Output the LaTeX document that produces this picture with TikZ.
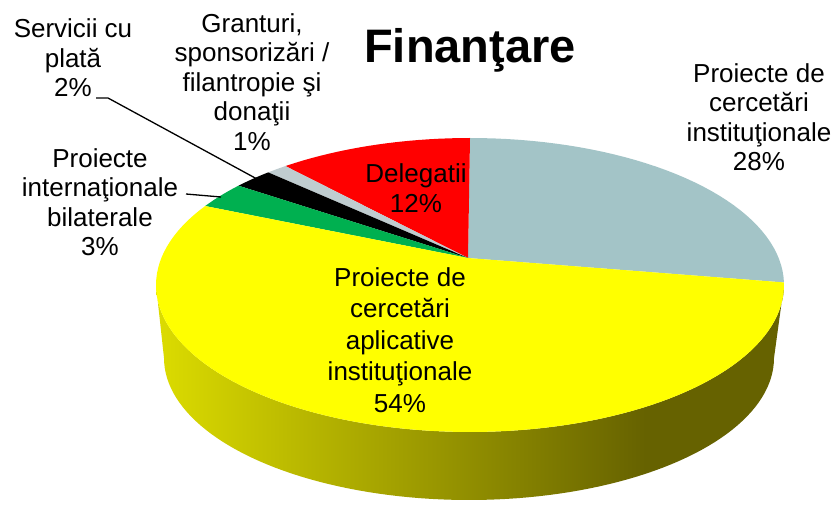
\documentclass[tikz,border=0pt]{standalone}
\usepackage{fontspec}
\setmainfont{Liberation Sans}
\usepackage{tikz}
\usetikzlibrary{calc}
\definecolor{inst}{HTML}{A3C4C7}
\definecolor{deleg}{HTML}{FF0000}
\definecolor{grant}{HTML}{BFCCCF}
\definecolor{serv}{HTML}{000000}
\definecolor{intl}{HTML}{00B050}
\definecolor{aplic}{HTML}{FFFF00}
\definecolor{sidelight}{HTML}{DCDC00}
\definecolor{sidedark}{HTML}{666200}
\pgfdeclarehorizontalshading{sideshade}{100bp}{color(0bp)=(sidelight); color(25bp)=(sidelight); color(64bp)=(sidedark); color(100bp)=(sidedark)}
\tikzset{
  lbl/.style={align=center, inner sep=0pt, font=\fontsize{26bp}{29.5bp}\selectfont},
  biglbl/.style={lbl, font=\fontsize{26bp}{31.5bp}\selectfont},
  ttl/.style={inner sep=0pt, font=\fontsize{47bp}{52bp}\selectfont\bfseries},
  lead/.style={draw=black, line width=1.3bp}
}

\begin{document}
\begin{tikzpicture}[x=1bp,y=-1bp]
\useasboundingbox (0,0) rectangle (835,505);
\coordinate (ap) at (468,258);

% side of the pie
\shade[shading=sideshade] plot[domain=180:360,samples=90,variable=\t] ({470+314*cos(\t)},{285-147*sin(\t)})
  -- plot[domain=360:180,samples=90,variable=\t] ({469+305*cos(\t)},{358-142*sin(\t)}) -- cycle;

% slices
\fill[inst] (ap) -- plot[domain=1:90,samples=40,variable=\t] ({470+314*cos(\t)},{285-147*sin(\t)}) -- cycle;
\fill[deleg] (ap) -- plot[domain=90:126,samples=20,variable=\t] ({470+314*cos(\t)},{285-147*sin(\t)}) -- cycle;
\fill[grant] (ap) -- plot[domain=126:130,samples=5,variable=\t] ({470+314*cos(\t)},{285-147*sin(\t)}) -- cycle;
\fill[serv] (ap) -- plot[domain=130:137.5,samples=5,variable=\t] ({470+314*cos(\t)},{285-147*sin(\t)}) -- cycle;
\fill[intl] (ap) -- plot[domain=137.5:147.5,samples=8,variable=\t] ({470+314*cos(\t)},{285-147*sin(\t)}) -- cycle;
\fill[aplic] (ap) -- plot[domain=147.5:361,samples=100,variable=\t] ({470+314*cos(\t)},{285-147*sin(\t)}) -- cycle;

% title
\node[ttl, anchor=base] (title) at (470,63) {Finanţare};

% labels
\node[lbl] (srv) at (73,58) {Servicii cu\\plată\\2\%};
\node[lbl] (grt) at (252,82) {Granturi,\\sponsorizări /\\filantropie şi\\donaţii\\1\%};
\node[lbl] (intlbl) at (100,202) {Proiecte\\internaţionale\\bilaterale\\3\%};
\node[lbl] (dlg) at (416,188) {Delegatii\\12\%};
\node[lbl] (ins) at (759,117) {Proiecte de\\cercetări\\instituţionale\\28\%};
\node[biglbl] (apl) at (400,340) {Proiecte de\\cercetări\\aplicative\\instituţionale\\54\%};

% leader lines
\coordinate (srvs) at (96,98);
\coordinate (srvk) at (108,98);
\coordinate (srve) at (257,179);
\draw[lead] (srvs) -- (srvk) -- (srve);
\coordinate (intls) at (186,194);
\coordinate (intle) at (221,197);
\draw[lead] (intls) -- (intle);
\end{tikzpicture}
\end{document}
